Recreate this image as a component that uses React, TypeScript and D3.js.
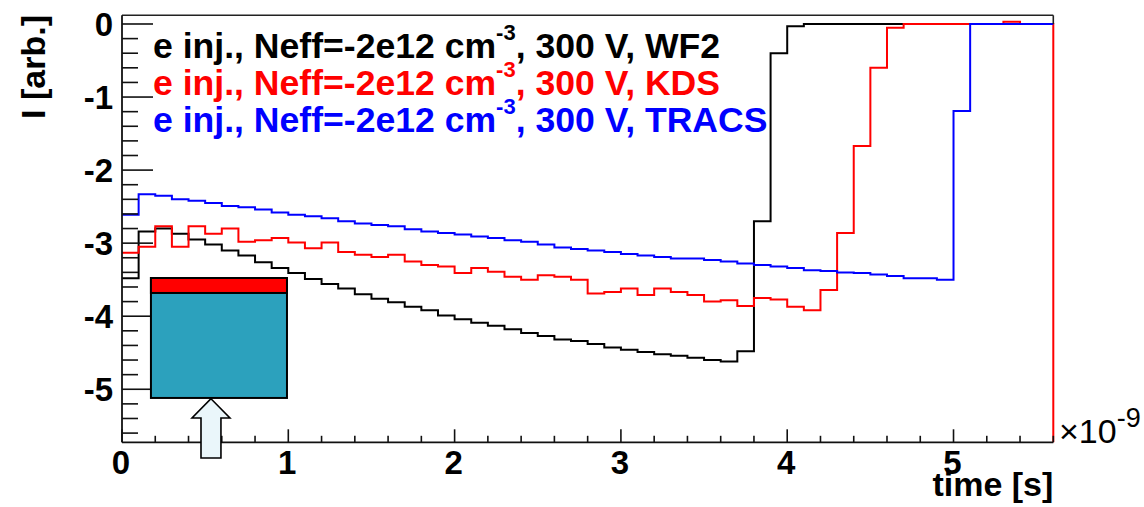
import React from "react";
import * as d3 from "d3";

// ---- data (histograms, bin width 0.1 ns, from 0 to 5.6 ns) ----
const BIN_WIDTH = 0.1;
const X_DOMAIN: [number, number] = [0, 5.6];
const Y_DOMAIN: [number, number] = [-5.726, 0.119];

const WF2 = [
  -3.48, -2.84, -2.8, -2.87, -2.95, -3.02, -3.1, -3.17, -3.26, -3.34,
  -3.41, -3.49, -3.56, -3.62, -3.7, -3.76, -3.81, -3.87, -3.92, -3.99,
  -4.04, -4.09, -4.13, -4.18, -4.23, -4.27, -4.32, -4.34, -4.38, -4.43,
  -4.46, -4.49, -4.52, -4.54, -4.57, -4.6, -4.62, -4.48, -2.7, -0.4,
  -0.03, 0, 0, 0, 0, 0, 0, 0, 0, 0,
  0, 0, 0, 0, 0, 0,
];

const KDS = [
  -3.13, -3.05, -2.77, -3.05, -2.77, -2.87, -2.8, -2.98, -2.96, -2.93,
  -2.99, -3.07, -2.99, -3.12, -3.16, -3.19, -3.16, -3.25, -3.3, -3.32,
  -3.41, -3.34, -3.39, -3.46, -3.5, -3.44, -3.46, -3.5, -3.69, -3.67,
  -3.62, -3.71, -3.62, -3.67, -3.71, -3.8, -3.78, -3.86, -3.75, -3.77,
  -3.87, -3.92, -3.64, -2.86, -1.67, -0.6, -0.05, 0, 0, 0,
  0, 0, 0, 0.03, 0, 0,
];

const TRACS = [
  -2.61, -2.33, -2.35, -2.4, -2.42, -2.45, -2.49, -2.51, -2.54, -2.58,
  -2.61, -2.63, -2.66, -2.7, -2.73, -2.75, -2.77, -2.81, -2.84, -2.86,
  -2.88, -2.91, -2.93, -2.96, -2.98, -3.02, -3.06, -3.08, -3.1, -3.12,
  -3.15, -3.17, -3.19, -3.21, -3.21, -3.23, -3.25, -3.28, -3.3, -3.32,
  -3.34, -3.37, -3.38, -3.4, -3.41, -3.43, -3.45, -3.48, -3.48, -3.5,
  -1.19, 0, 0, 0, 0, 0,
];

const X_TICKS = [0, 1, 2, 3, 4, 5];
const Y_TICKS = [0, -1, -2, -3, -4, -5];
const X_MINOR_STEP = 0.2;
const Y_MINOR_STEP = 0.2;

const LEGEND = [
  { pre: "e inj., Neff=-2e12 cm", sup: "-3", post: ", 300 V, WF2", color: "#000000" },
  { pre: "e inj., Neff=-2e12 cm", sup: "-3", post: ", 300 V, KDS", color: "#ff0000" },
  { pre: "e inj., Neff=-2e12 cm", sup: "-3", post: ", 300 V, TRACS", color: "#0000ff" },
];

// inset sketch of the detector (in data units)
const INSET = { x0: 0.174, x1: 0.992, yTop: -3.477, yBand: -3.682, yBot: -5.119 };
const ARROW = { xc: 0.535, tip: -5.13, headBase: -5.393, bottom: -5.94, headHalf: 0.114, shaftHalf: 0.06 };

const W = 1144;
const H = 507;
const LEFT = 122;
const RIGHT = 1053.3;
const TOP = 15.3;
const BOTTOM = 442.3;
const FONT = "'Liberation Sans', Arial, Helvetica, sans-serif";

export default function App() {
  const x = d3.scaleLinear().domain(X_DOMAIN).range([LEFT, RIGHT]);
  const y = d3.scaleLinear().domain(Y_DOMAIN).range([BOTTOM, TOP]);

  const toPoints = (vals: number[]): [number, number][] => {
    const pts: [number, number][] = vals.map((v, i) => [X_DOMAIN[0] + i * BIN_WIDTH, v]);
    pts.push([X_DOMAIN[0] + vals.length * BIN_WIDTH, vals[vals.length - 1]]);
    return pts;
  };
  const line = d3
    .line<[number, number]>()
    .x((d) => x(d[0]))
    .y((d) => y(d[1]))
    .curve(d3.curveStepAfter);

  const wf2Path = line(toPoints(WF2)) || "";
  const kdsPts = toPoints(KDS);
  kdsPts.push([X_DOMAIN[1], Y_DOMAIN[0]]);
  const kdsPath = line(kdsPts) || "";
  const tracsPath = line(toPoints(TRACS)) || "";

  const xMinor = d3.range(X_DOMAIN[0], X_DOMAIN[1] + 1e-6, X_MINOR_STEP).filter((t) => !X_TICKS.some((m) => Math.abs(m - t) < 1e-6));
  const yMinor = d3.range(0, Y_DOMAIN[0] - 1e-6, -Y_MINOR_STEP).filter((t) => !Y_TICKS.some((m) => Math.abs(m - t) < 1e-6));

  const arrowPts: [number, number][] = [
    [ARROW.xc, ARROW.tip],
    [ARROW.xc + ARROW.headHalf, ARROW.headBase],
    [ARROW.xc + ARROW.shaftHalf, ARROW.headBase],
    [ARROW.xc + ARROW.shaftHalf, ARROW.bottom],
    [ARROW.xc - ARROW.shaftHalf, ARROW.bottom],
    [ARROW.xc - ARROW.shaftHalf, ARROW.headBase],
    [ARROW.xc - ARROW.headHalf, ARROW.headBase],
  ];
  const arrowPath = "M" + arrowPts.map((p) => `${x(p[0])},${y(p[1])}`).join("L") + "Z";

  return (
    <svg
      width={W}
      height={H}
      viewBox={`0 0 ${W} ${H}`}
      style={{ position: "absolute", left: 0, top: 0, background: "#fff" }}
      fontFamily={FONT}
    >
      <rect x={0} y={0} width={W} height={H} fill="#fff" />

      {/* histograms */}
      <path d={wf2Path} fill="none" stroke="#000" strokeWidth={2} />
      <path d={kdsPath} fill="none" stroke="#ff0000" strokeWidth={2} />
      <path d={tracsPath} fill="none" stroke="#0000ff" strokeWidth={2} />

      {/* frame top/right */}
      <line x1={LEFT} x2={RIGHT} y1={TOP} y2={TOP} stroke="#222" strokeWidth={1.6} />
      <line x1={RIGHT} x2={RIGHT} y1={TOP} y2={y(0)} stroke="#222" strokeWidth={1.6} />

      {/* y axis */}
      <line x1={LEFT} x2={LEFT} y1={TOP} y2={BOTTOM} stroke="#111" strokeWidth={1.8} />
      {Y_TICKS.map((t) => (
        <g key={"ym" + t}>
          <line x1={LEFT} x2={LEFT + 31} y1={y(t)} y2={y(t)} stroke="#111" strokeWidth={1.6} />
          <text x={113} y={y(t) + 12} textAnchor="end" fontSize={33} fontWeight="bold" fill="#000">
            {t === 0 ? "0" : `-${Math.abs(t)}`}
          </text>
        </g>
      ))}
      {yMinor.map((t) => (
        <line key={"yn" + t} x1={LEFT} x2={LEFT + 16} y1={y(t)} y2={y(t)} stroke="#111" strokeWidth={1.6} />
      ))}

      {/* x axis */}
      <line x1={LEFT} x2={RIGHT} y1={BOTTOM} y2={BOTTOM} stroke="#111" strokeWidth={1.8} />
      {X_TICKS.map((t) => (
        <g key={"xm" + t}>
          <line x1={x(t)} x2={x(t)} y1={BOTTOM} y2={BOTTOM - 13} stroke="#111" strokeWidth={1.6} />
          <text x={x(t) - 1} y={474} textAnchor="middle" fontSize={33} fontWeight="bold" fill="#000">
            {String(t)}
          </text>
        </g>
      ))}
      {xMinor.map((t) => (
        <line key={"xn" + t} x1={x(t)} x2={x(t)} y1={BOTTOM} y2={BOTTOM - 6.5} stroke="#111" strokeWidth={1.6} />
      ))}

      {/* axis titles */}
      <text x={RIGHT} y={496} textAnchor="end" fontSize={34} fontWeight="bold" fill="#000">
        time [s]
      </text>
      <text transform={`translate(45,15) rotate(-90)`} textAnchor="end" fontSize={34} fontWeight="bold" fill="#000">
        I [arb.]
      </text>
      <text x={1059} y={443} fontSize={34} fill="#000">
        ×10
        <tspan fontSize={27} dy={-16}>-9</tspan>
      </text>

      {/* legend text */}
      {LEGEND.map((l, i) => (
        <text key={i} x={153} y={58 + i * 37} fontSize={35.6} fontWeight="bold" fill={l.color}>
          {l.pre}
          <tspan fontSize={22} dy={-18}>{l.sup}</tspan>
          <tspan dy={18}>{l.post}</tspan>
        </text>
      ))}

      {/* inset detector sketch */}
      <rect
        x={x(INSET.x0)}
        y={y(INSET.yTop)}
        width={x(INSET.x1) - x(INSET.x0)}
        height={y(INSET.yBot) - y(INSET.yTop)}
        fill="#2ca1bd"
        stroke="#000"
        strokeWidth={2}
      />
      <rect
        x={x(INSET.x0)}
        y={y(INSET.yTop)}
        width={x(INSET.x1) - x(INSET.x0)}
        height={y(INSET.yBand) - y(INSET.yTop)}
        fill="#ff0000"
        stroke="#000"
        strokeWidth={2}
      />
      <path d={arrowPath} fill="#eaf6fa" stroke="#000" strokeWidth={1.6} />
    </svg>
  );
}
